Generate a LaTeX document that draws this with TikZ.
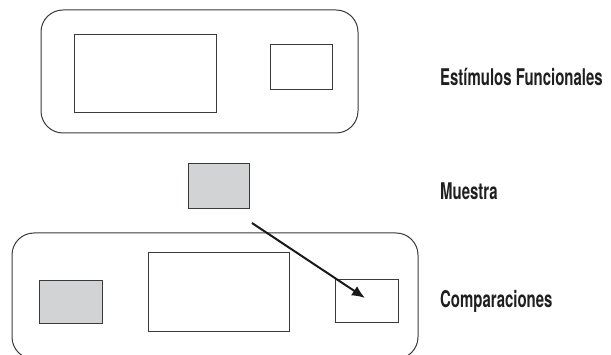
\documentclass[tikz,border=0pt]{standalone}
\usepackage{fontspec}
\setmainfont{TeX Gyre Heros}[FakeStretch=0.65,BoldFont={* Bold},BoldFeatures={FakeStretch=0.65}]
\usetikzlibrary{arrows.meta}
\definecolor{linegray}{HTML}{3A3A3A}
\definecolor{fillgray}{HTML}{D1D3D4}
\begin{document}
\begin{tikzpicture}[x=1pt,y=-1pt,
  outerbox/.style={draw=linegray,line width=1pt,rounded corners=22pt,inner sep=0pt,outer sep=0pt},
  plainbox/.style={draw=linegray,line width=1pt,fill=white,inner sep=0pt,outer sep=0pt},
  graybox/.style={plainbox,fill=fillgray},
  lbl/.style={anchor=base west,inner sep=0pt,font=\fontsize{23}{26}\selectfont\bfseries,text=black!88},
  arr/.style={-{Latex[length=13pt,width=11pt]},line width=2pt,draw=black!90}]
\useasboundingbox (0,0) rectangle (611,355);
% top group
\node[outerbox,minimum width=317pt,minimum height=123pt] (top) at (199.5,71.5) {};
\node[plainbox,minimum width=142pt,minimum height=78pt] (topbig) at (145,74) {};
\node[plainbox,minimum width=62pt,minimum height=45pt] (topsmall) at (301,67.5) {};
% sample
\node[graybox,minimum width=61pt,minimum height=45pt] (sample) at (218.5,186.5) {};
% bottom group
\node[outerbox,minimum width=406pt,minimum height=126pt] (bot) at (215,296) {};
\node[graybox,minimum width=63pt,minimum height=43pt] (cmpL) at (70.5,302.5) {};
\node[plainbox,minimum width=141pt,minimum height=79pt] (cmpM) at (218.5,292.5) {};
\node[plainbox,minimum width=63pt,minimum height=43pt] (cmpR) at (366.5,301.5) {};
% arrow
\coordinate (astart) at (252,223);
\coordinate (aend) at (365,298);
\draw[arr] (astart) -- (aend);
% labels
\node[lbl] (l1) at (440,86) {Estímulos Funcionales};
\node[lbl] (l2) at (440,199.5) {Muestra};
\node[lbl] (l3) at (440,308) {Comparaciones};
\end{tikzpicture}
\end{document}
